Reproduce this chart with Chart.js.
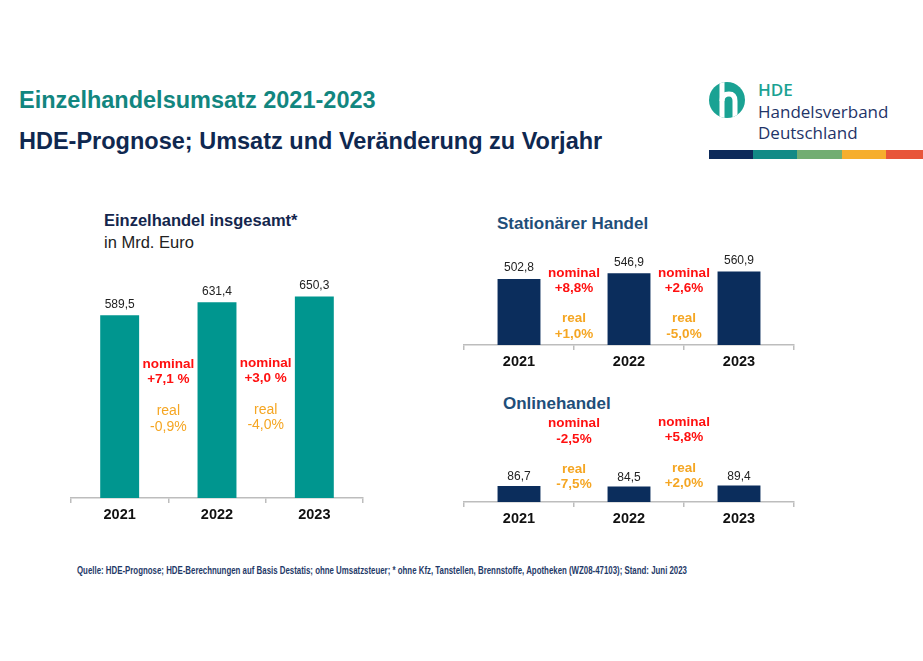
<!DOCTYPE html>
<html>
<head>
<meta charset="utf-8">
<script src="https://cdn.jsdelivr.net/npm/chart.js@4"></script>
<style>
  html, body { margin:0; padding:0; background:#fff; }
  body { width:923px; height:661px; position:relative; overflow:hidden; font-family:"Liberation Sans", Arial, sans-serif; }
  .t { position:absolute; white-space:nowrap; line-height:1; transform:translateY(-50%); }
  .box { position:absolute; }
  canvas { display:block; }
</style>
</head>
<body>
<script>
// ---------- data ----------
const years = ['2021', '2022', '2023'];
const totalValues = [589.5, 631.4, 650.3];
const storeValues = [502.8, 546.9, 560.9];
const onlineValues = [86.7, 84.5, 89.4];
const totalNominal = ['+7,1 %', '+3,0 %'];
const totalReal = ['-0,9%', '-4,0%'];
const storeNominal = ['+8,8%', '+2,6%'];
const storeReal = ['+1,0%', '-5,0%'];
const onlineNominal = ['-2,5%', '+5,8%'];
const onlineReal = ['-7,5%', '+2,0%'];
</script>

<div class="t" style="left:19px;top:101px;font-size:23.5px;font-weight:bold;color:#12867f;">Einzelhandelsumsatz 2021-2023</div>
<div class="t" style="left:19px;top:142px;font-size:23.5px;font-weight:bold;color:#0f2850;">HDE-Prognose; Umsatz und Veränderung zu Vorjahr</div>

<!-- logo -->
<svg class="box" style="left:709px;top:82px;" width="36" height="36" viewBox="0 0 36 36">
  <defs><clipPath id="cc"><circle cx="18" cy="18" r="18"/></clipPath></defs>
  <circle cx="18" cy="18" r="18" fill="#1aa293"/>
  <g clip-path="url(#cc)" stroke="#fff" stroke-width="5" fill="none">
    <path d="M13 0 L13 36"/>
    <path d="M13 19 Q13 12 20 12 Q26 12 26 19 L26 36"/>
  </g>
</svg>
<div class="t" style="left:758px;top:89px;font-size:17px;color:#1aa293;font-family:'Open Sans',sans-serif;font-weight:600;">HDE</div>
<div class="t" style="left:758px;top:111px;font-size:17px;color:#1f3468;font-family:'Open Sans',sans-serif;">Handelsverband</div>
<div class="t" style="left:758px;top:132px;font-size:17px;color:#1f3468;font-family:'Open Sans',sans-serif;">Deutschland</div>
<div class="box" style="left:709px;top:150px;width:44px;height:9px;background:#0d2a5a;"></div>
<div class="box" style="left:753px;top:150px;width:44px;height:9px;background:#128a86;"></div>
<div class="box" style="left:797px;top:150px;width:45px;height:9px;background:#72ad72;"></div>
<div class="box" style="left:842px;top:150px;width:44px;height:9px;background:#f6ae2d;"></div>
<div class="box" style="left:886px;top:150px;width:37px;height:9px;background:#e8553a;"></div>

<!-- sub titles -->
<div class="t" style="left:104px;top:220px;font-size:16.5px;font-weight:bold;color:#14264d;">Einzelhandel insgesamt*</div>
<div class="t" style="left:104px;top:242px;font-size:16.5px;color:#222;">in Mrd. Euro</div>
<div class="t" style="left:497px;top:223px;font-size:17px;font-weight:bold;color:#1f4e79;">Stationärer Handel</div>
<div class="t" style="left:503px;top:403px;font-size:17px;font-weight:bold;color:#1f4e79;">Onlinehandel</div>

<div class="box" style="left:69px;top:250px;"><canvas id="c1" width="296" height="280"></canvas></div>
<div class="box" style="left:462px;top:240px;"><canvas id="c2" width="334" height="137"></canvas></div>
<div class="box" style="left:462px;top:410px;"><canvas id="c3" width="334" height="124"></canvas></div>

<div id="foot" class="t" style="left:77px;top:571px;font-size:10px;font-weight:bold;color:#1f3a68;font-family:'Liberation Sans Narrow','Arial Narrow','Liberation Sans',sans-serif;transform-origin:0 50%;">Quelle: HDE-Prognose; HDE-Berechnungen auf Basis Destatis; ohne Umsatzsteuer; * ohne Kfz, Tanstellen, Brennstoffe, Apotheken (WZ08-47103); Stand: Juni 2023</div>

<script>
const RED = '#ff1010';
const ORANGE = '#f5a623';

function fmt(v) { return v.toFixed(1).replace('.', ','); }

const labelsPlugin = {
  id: 'labelsPlugin',
  afterDatasetsDraw(chart) {
    const cfg = chart.options.plugins.labelsPlugin;
    const ctx = chart.ctx;
    const meta = chart.getDatasetMeta(0);
    const xs = chart.scales.x;
    const bottom = chart.chartArea.bottom;
    ctx.save();
    ctx.textAlign = 'center';
    ctx.textBaseline = 'middle';
    // value labels
    ctx.fillStyle = '#222';
    ctx.font = '12px "Liberation Sans", Arial, sans-serif';
    meta.data.forEach((bar, i) => {
      ctx.fillText(fmt(chart.data.datasets[0].data[i]), bar.x, bar.y - cfg.valueGap);
    });
    // change annotations between categories
    for (let i = 0; i < cfg.nominal.length; i++) {
      const x = (xs.getPixelForValue(i) + xs.getPixelForValue(i + 1)) / 2;
      const o = cfg.offsets[i];
      ctx.font = 'bold ' + cfg.size + 'px "Liberation Sans", Arial, sans-serif';
      ctx.fillStyle = RED;
      ctx.fillText('nominal', x, bottom - o[0]);
      ctx.fillText(cfg.nominal[i], x, bottom - o[1]);
      ctx.font = cfg.realWeight + ' ' + cfg.realSize + 'px "Liberation Sans", Arial, sans-serif';
      ctx.fillStyle = ORANGE;
      ctx.fillText('real', x, bottom - o[2]);
      ctx.fillText(cfg.real[i], x, bottom - o[3]);
    }
    ctx.restore();
  }
};

function makeChart(id, values, color, yMax, barPct, ann) {
  return new Chart(document.getElementById(id), {
    type: 'bar',
    data: {
      labels: years,
      datasets: [{ data: values, backgroundColor: color, borderWidth: 0,
                   barPercentage: barPct, categoryPercentage: 1 }]
    },
    options: {
      responsive: false,
      animation: false,
      events: [],
      layout: { padding: { left: 2, right: 2, top: 0, bottom: 0 } },
      plugins: { legend: { display: false }, tooltip: { enabled: false }, labelsPlugin: ann },
      scales: {
        y: { display: false, min: 0, max: yMax },
        x: {
          afterFit(s) { s.height = 32; },
          border: { display: true, color: '#bdbdbd', width: 1.5 },
          grid: { display: true, offset: true, drawOnChartArea: false, drawTicks: true, tickLength: 5, color: '#bdbdbd', lineWidth: 1.5 },
          ticks: { color: '#111', padding: 3, font: { family: '"Liberation Sans", Arial, sans-serif', size: 14.5, weight: 'bold' } }
        }
      }
    },
    plugins: [labelsPlugin]
  });
}

makeChart('c1', totalValues, '#00968f', 800, 0.4, {
  nominal: totalNominal, real: totalReal, size: 13.5, realSize: 14, realWeight: 'normal', valueGap: 11,
  offsets: [[134, 119, 87, 71], [135, 120, 88, 73]]
});
makeChart('c2', storeValues, '#0b2d5c', 800, 0.39, {
  nominal: storeNominal, real: storeReal, size: 13.5, realSize: 13.5, realWeight: 'bold', valueGap: 11,
  offsets: [[72, 57, 27, 11], [72, 57, 27, 11]]
});
makeChart('c3', onlineValues, '#0b2d5c', 500, 0.39, {
  nominal: onlineNominal, real: onlineReal, size: 13.5, realSize: 13.5, realWeight: 'bold', valueGap: 9,
  offsets: [[79, 63, 33, 18], [80, 65, 34, 19]]
});

// fit footer text to reference width
const foot = document.getElementById('foot');
const w = foot.getBoundingClientRect().width;
foot.style.transform = 'translateY(-50%) scaleX(' + (610 / w) + ')';
</script>
</body>
</html>
